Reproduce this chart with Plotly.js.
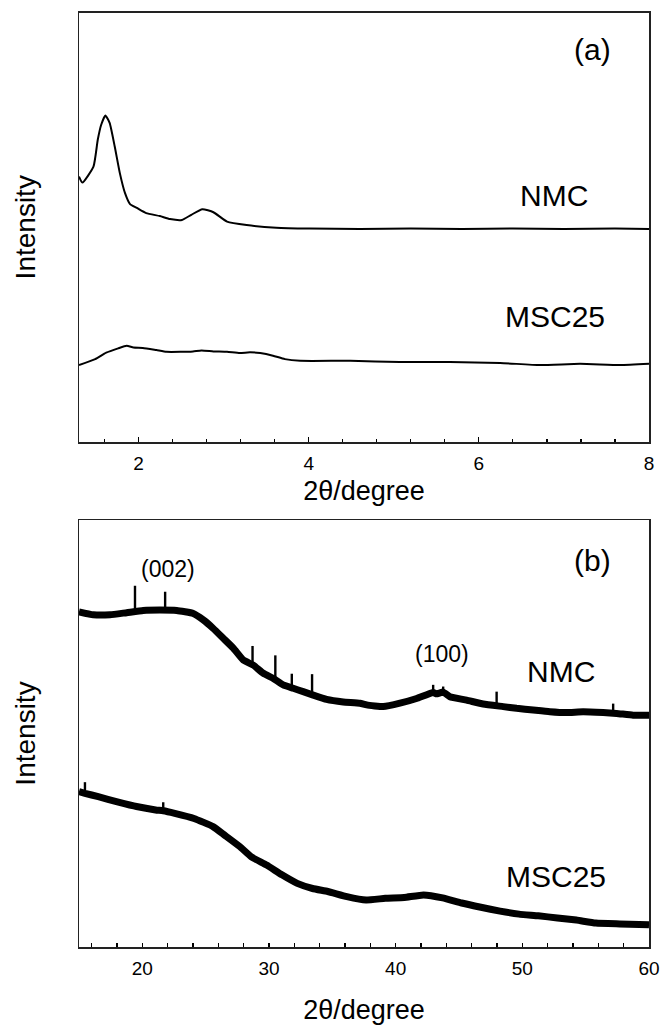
<!DOCTYPE html>
<html>
<head>
<meta charset="utf-8">
<script src="https://cdn.plot.ly/plotly-3.0.1.min.js"></script>
<style>
  html, body { margin: 0; padding: 0; background: #fff; }
  #chart { width: 660px; height: 1025px; }
</style>
</head>
<body>
<div id="chart"></div>
<script>
// ---------- Panel (a): low-angle XRD ----------
const aThetaNMC = [1.30,1.34,1.47,1.52,1.56,1.61,1.66,1.72,1.78,1.84,1.90,1.98,2.09,2.25,2.37,2.51,2.62,2.75,2.88,3.04,3.27,3.62,4.01,4.60,5.20,5.80,6.40,7.00,7.60,8.00];
const aNMC      = [61.8,60.4,64.1,70.3,73.8,76.0,74.3,68.8,62.6,58.0,55.4,54.5,53.3,52.6,51.9,51.7,52.9,54.2,53.5,51.3,50.5,49.9,49.7,49.6,49.7,49.6,49.7,49.6,49.7,49.6];

const aThetaMSC = [1.30,1.49,1.62,1.76,1.86,1.94,2.05,2.21,2.33,2.49,2.64,2.74,2.88,3.04,3.19,3.31,3.43,3.58,3.72,3.90,4.49,5.07,5.66,6.25,6.72,7.19,7.66,8.00];
const aMSC      = [17.9,19.3,20.8,21.8,22.4,22.0,21.9,21.4,21.0,21.0,21.1,21.3,21.1,21.0,20.7,20.9,20.7,20.1,19.3,18.9,18.9,18.6,18.6,18.4,17.9,18.2,17.9,18.2];

// ---------- Panel (b): wide-angle XRD (band centre) ----------
const bThetaNMC = [15.00,16.13,17.45,18.76,20.07,21.39,22.71,24.02,24.81,25.60,26.39,27.18,27.97,28.76,29.55,30.34,31.12,31.91,32.70,33.49,34.55,35.86,37.18,37.71,39.02,40.34,41.65,42.96,43.23,43.75,44.28,45.60,46.91,48.49,49.55,50.86,52.17,53.49,54.80,56.38,57.44,58.75,60.00];
const bNMC      = [78.5,77.8,77.8,78.3,78.8,78.9,78.8,78.1,76.6,74.6,72.3,70.0,67.2,66.0,64.1,62.9,61.4,60.6,59.8,59.0,58.0,57.4,57.1,56.7,56.3,57.1,58.2,59.6,59.3,59.7,58.6,57.8,56.9,56.3,55.9,55.5,55.1,54.9,55.1,54.9,54.7,54.3,54.3];

const bThetaMSC = [15.00,15.47,16.52,18.03,19.54,21.05,21.65,22.56,24.08,25.58,26.49,27.70,28.61,29.81,31.02,32.23,33.44,34.64,36.15,37.67,39.18,40.68,42.20,43.71,45.21,46.73,48.24,49.74,51.26,52.77,54.27,55.80,57.70,60.00];
const bMSC      = [36.4,36.0,35.2,34.0,32.9,32.1,31.9,31.3,30.1,28.2,26.2,23.5,21.1,19.2,16.9,14.9,13.7,13.0,11.8,11.0,11.4,11.6,12.2,11.5,10.3,9.3,8.4,7.7,7.3,6.8,6.3,5.6,5.4,5.2];

// Sharp reflections sticking out of the noise band (position, base, top)
const spikeThetaNMC = [19.42,21.80,28.70,30.50,31.80,33.40,42.96,43.75,47.97,57.17];
const spikeBaseNMC  = [78.6,78.9,66.0,62.7,60.6,59.0,59.6,59.7,56.5,54.7];
const spikeTopNMC   = [84.6,83.2,70.5,68.3,64.0,63.9,61.4,61.0,59.8,57.0];
const spikeThetaMSC = [15.47,21.65];
const spikeBaseMSC  = [36.0,31.9];
const spikeTopMSC   = [38.6,33.9];

// ---------- Labels ----------
const panelA = '(a)', panelB = '(b)';
const sampleNames = ['NMC', 'MSC25'];
const reflections = ['(002)', '(100)'];
const xTitle = '2θ/degree';
const yTitle = 'Intensity';

const FONT = 'Liberation Sans, Arial, Helvetica, sans-serif';

function spikeSegments(xs, base, top) {
  const x = [], y = [];
  xs.forEach((v, i) => { x.push(v, v, null); y.push(base[i], top[i], null); });
  return {x, y};
}
const sN = spikeSegments(spikeThetaNMC, spikeBaseNMC, spikeTopNMC);
const sM = spikeSegments(spikeThetaMSC, spikeBaseMSC, spikeTopMSC);

const traces = [
  {x: aThetaNMC, y: aNMC, xaxis: 'x', yaxis: 'y', mode: 'lines', name: 'NMC',
   line: {color: '#000', width: 2, shape: 'spline', smoothing: 0.5}},
  {x: aThetaMSC, y: aMSC, xaxis: 'x', yaxis: 'y', mode: 'lines', name: 'MSC25',
   line: {color: '#000', width: 2, shape: 'spline', smoothing: 0.5}},
  {x: bThetaNMC, y: bNMC, xaxis: 'x2', yaxis: 'y2', mode: 'lines', name: 'NMC',
   line: {color: '#000', width: 7, shape: 'spline', smoothing: 0.4}},
  {x: bThetaMSC, y: bMSC, xaxis: 'x2', yaxis: 'y2', mode: 'lines', name: 'MSC25',
   line: {color: '#000', width: 7, shape: 'spline', smoothing: 0.4}},
  {x: sN.x, y: sN.y, xaxis: 'x2', yaxis: 'y2', mode: 'lines', name: 'NMC peaks',
   line: {color: '#000', width: 2.4}, connectgaps: false},
  {x: sM.x, y: sM.y, xaxis: 'x2', yaxis: 'y2', mode: 'lines', name: 'MSC25 peaks',
   line: {color: '#000', width: 2.4}, connectgaps: false}
];

const xl = 79 / 660, xr = 649 / 660;
const H = 1025;

const commonX = {
  ticks: 'inside', tickcolor: '#000', tickwidth: 1.2,
  showline: true, linecolor: '#222', linewidth: 1.5, mirror: true,
  showgrid: false, zeroline: false,
  tickfont: {size: 19, family: FONT, color: '#000'},
  ticklabelstandoff: 4
};
const commonY = {
  range: [0, 100], showticklabels: false, ticks: '',
  showline: true, linecolor: '#222', linewidth: 1.5, mirror: true,
  showgrid: false, zeroline: false
};

const layout = {
  width: 660, height: 1025,
  margin: {l: 0, r: 0, t: 0, b: 0},
  paper_bgcolor: '#fff', plot_bgcolor: '#fff',
  showlegend: false,
  font: {family: FONT, color: '#000'},
  xaxis: Object.assign({}, commonX, {
    domain: [xl, xr], anchor: 'y', range: [1.3, 8],
    tickmode: 'linear', tick0: 0, dtick: 2, ticklen: 5,
    minor: {dtick: 0.4, tick0: 0, ticks: 'inside', ticklen: 3, tickcolor: '#000'},
    title: {text: xTitle, font: {size: 27, family: FONT}, standoff: 8}
  }),
  yaxis: Object.assign({}, commonY, {
    domain: [(H - 442) / H, (H - 12.5) / H], anchor: 'x',
    title: {text: yTitle, font: {size: 28, family: FONT}, standoff: 33}
  }),
  xaxis2: Object.assign({}, commonX, {
    domain: [xl, xr], anchor: 'y2', range: [15, 60],
    tickmode: 'linear', tick0: 0, dtick: 10, ticklen: 4,
    minor: {dtick: 2, tick0: 0, ticks: 'inside', ticklen: 4, tickcolor: '#000'},
    title: {text: xTitle, font: {size: 27, family: FONT}, standoff: 22}
  }),
  yaxis2: Object.assign({}, commonY, {
    domain: [(H - 947) / H, (H - 520) / H], anchor: 'x2',
    title: {text: yTitle, font: {size: 28, family: FONT}, standoff: 33}
  }),
  annotations: [
    {text: panelA, x: 7.34, y: 91.3, xref: 'x', yref: 'y', showarrow: false, font: {size: 30}},
    {text: sampleNames[0], x: 6.88, y: 57.5, xref: 'x', yref: 'y', showarrow: false, font: {size: 30}},
    {text: sampleNames[1], x: 6.90, y: 29.2, xref: 'x', yref: 'y', showarrow: false, font: {size: 30}},
    {text: panelB, x: 55.57, y: 90.6, xref: 'x2', yref: 'y2', showarrow: false, font: {size: 30}},
    {text: reflections[0], x: 22.0, y: 88.5, xref: 'x2', yref: 'y2', showarrow: false, font: {size: 23}},
    {text: reflections[1], x: 43.63, y: 68.6, xref: 'x2', yref: 'y2', showarrow: false, font: {size: 23}},
    {text: sampleNames[0], x: 53.04, y: 64.6, xref: 'x2', yref: 'y2', showarrow: false, font: {size: 30}},
    {text: sampleNames[1], x: 52.68, y: 16.5, xref: 'x2', yref: 'y2', showarrow: false, font: {size: 30}}
  ]
};

Plotly.newPlot('chart', traces, layout, {staticPlot: true, displayModeBar: false});
</script>
</body>
</html>
